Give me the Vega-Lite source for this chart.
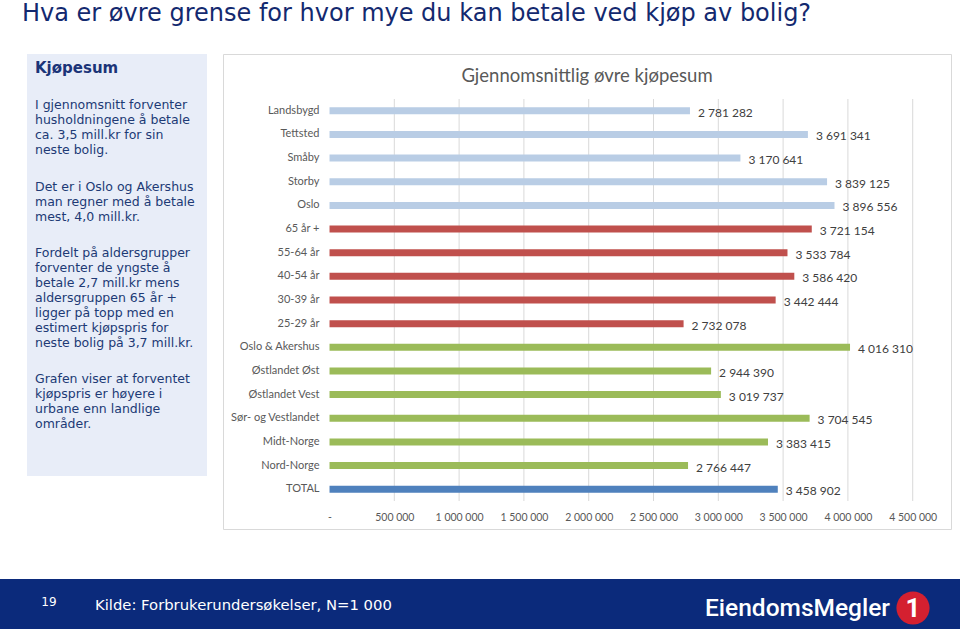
{
  "$schema": "https://vega.github.io/schema/vega-lite/v6.json",
  "padding": {"top": 1, "left": 0, "right": 0, "bottom": 0},
  "background": "white",
  "title": {
    "text": "Hva er øvre grense for hvor mye du kan betale ved kjøp av bolig?",
    "anchor": "start",
    "frame": "bounds",
    "dx": 22,
    "offset": 28,
    "font": "DejaVu Sans",
    "fontSize": 24,
    "fontWeight": "normal",
    "color": "#13296f"
  },
  "datasets": {
    "bars": [
      {"category": "Landsbygd", "value": 2781282, "group": "Bosted"},
      {"category": "Tettsted", "value": 3691341, "group": "Bosted"},
      {"category": "Småby", "value": 3170641, "group": "Bosted"},
      {"category": "Storby", "value": 3839125, "group": "Bosted"},
      {"category": "Oslo", "value": 3896556, "group": "Bosted"},
      {"category": "65 år +", "value": 3721154, "group": "Alder"},
      {"category": "55-64 år", "value": 3533784, "group": "Alder"},
      {"category": "40-54 år", "value": 3586420, "group": "Alder"},
      {"category": "30-39 år", "value": 3442444, "group": "Alder"},
      {"category": "25-29 år", "value": 2732078, "group": "Alder"},
      {"category": "Oslo & Akershus", "value": 4016310, "group": "Region"},
      {"category": "Østlandet Øst", "value": 2944390, "group": "Region"},
      {"category": "Østlandet Vest", "value": 3019737, "group": "Region"},
      {"category": "Sør- og Vestlandet", "value": 3704545, "group": "Region"},
      {"category": "Midt-Norge", "value": 3383415, "group": "Region"},
      {"category": "Nord-Norge", "value": 2766447, "group": "Region"},
      {"category": "TOTAL", "value": 3458902, "group": "Total"}
    ],
    "grid": [
      {"value": 500000}, {"value": 1000000}, {"value": 1500000}, {"value": 2000000},
      {"value": 2500000}, {"value": 3000000}, {"value": 3500000}, {"value": 4000000}, {"value": 4500000}
    ]
  },
  "vconcat": [
    {
      "hconcat": [
        {
          "width": 12,
          "height": 10,
          "data": {"values": []},
          "mark": "point"
        },
        {
          "width": 180,
          "height": 422,
          "view": {"fill": "#e8edf8", "stroke": null},
          "data": {"values": [{
            "heading": "Kjøpesum",
            "p1": "I gjennomsnitt forventer\nhusholdningene å betale\nca. 3,5 mill.kr for sin\nneste bolig.",
            "p2": "Det er i Oslo og Akershus\nman regner med å betale\nmest, 4,0 mill.kr.",
            "p3": "Fordelt på aldersgrupper\nforventer de yngste å\nbetale 2,7 mill.kr mens\naldersgruppen 65 år +\nligger på topp med en\nestimert kjøpspris for\nneste bolig på 3,7 mill.kr.",
            "p4": "Grafen viser at forventet\nkjøpspris er høyere i\nurbane enn landlige\nområder."
          }]},
          "layer": [
            {
              "mark": {"type": "text", "align": "left", "baseline": "middle", "dx": -82, "dy": -197, "font": "DejaVu Sans", "fontSize": 15, "fontWeight": "bold", "color": "#1b3478"},
              "encoding": {"text": {"field": "heading", "type": "nominal"}}
            },
            {
              "mark": {"type": "text", "align": "left", "baseline": "top", "dx": -82, "dy": -166, "font": "DejaVu Sans", "fontSize": 12.5, "lineHeight": 15, "lineBreak": "\n", "color": "#203a75"},
              "encoding": {"text": {"field": "p1", "type": "nominal"}}
            },
            {
              "mark": {"type": "text", "align": "left", "baseline": "top", "dx": -82, "dy": -84, "font": "DejaVu Sans", "fontSize": 12.5, "lineHeight": 15, "lineBreak": "\n", "color": "#203a75"},
              "encoding": {"text": {"field": "p2", "type": "nominal"}}
            },
            {
              "mark": {"type": "text", "align": "left", "baseline": "top", "dx": -82, "dy": -18, "font": "DejaVu Sans", "fontSize": 12.5, "lineHeight": 15, "lineBreak": "\n", "color": "#203a75"},
              "encoding": {"text": {"field": "p3", "type": "nominal"}}
            },
            {
              "mark": {"type": "text", "align": "left", "baseline": "top", "dx": -82, "dy": 108, "font": "DejaVu Sans", "fontSize": 12.5, "lineHeight": 15, "lineBreak": "\n", "color": "#203a75"},
              "encoding": {"text": {"field": "p4", "type": "nominal"}}
            }
          ]
        },
        {
          "width": 728,
          "height": 475,
          "view": {"stroke": "#d9d9d9", "fill": "white"},
          "title": {
            "text": "Gjennomsnittlig øvre kjøpesum",
            "anchor": "middle",
            "frame": "group",
            "offset": -31,
            "font": "Lato",
            "fontSize": 18.5,
            "fontWeight": "normal",
            "color": "#595959"
          },
          "encoding": {
            "x": {
              "field": "value",
              "type": "quantitative",
              "scale": {"domain": [-822000, 4795500], "nice": false, "zero": false},
              "axis": {
                "values": [0, 500000, 1000000, 1500000, 2000000, 2500000, 3000000, 3500000, 4000000, 4500000],
                "format": ",d",
                "labelExpr": "datum.value === 0 ? '-' : datum.label",
                "offset": -28,
                "domain": false,
                "ticks": false,
                "tickSize": 0,
                "grid": false,
                "labelPadding": 11,
                "labelOverlap": false,
                "labelFlush": false,
                "labelFont": "Lato",
                "labelFontSize": 10.5,
                "labelColor": "#595959",
                "title": null
              }
            },
            "y": {
              "field": "category",
              "type": "nominal",
              "scale": {
                "domain": ["Landsbygd", "Tettsted", "Småby", "Storby", "Oslo", "65 år +", "55-64 år", "40-54 år", "30-39 år", "25-29 år", "Oslo & Akershus", "Østlandet Øst", "Østlandet Vest", "Sør- og Vestlandet", "Midt-Norge", "Nord-Norge", "TOTAL"],
                "range": [45, 447],
                "paddingInner": 0,
                "paddingOuter": 0
              },
              "axis": {
                "orient": "left",
                "offset": -107,
                "domain": false,
                "ticks": false,
                "tickSize": 0,
                "labelPadding": 11,
                "labelFont": "Lato",
                "labelFontSize": 11,
                "labelColor": "#595959",
                "title": null
              }
            }
          },
          "layer": [
            {
              "data": {"name": "grid"},
              "mark": {"type": "rule", "color": "#d9d9d9", "strokeWidth": 1},
              "encoding": {
                "y": {"datum": "Landsbygd", "type": "nominal", "bandPosition": 0},
                "y2": {"datum": "TOTAL", "bandPosition": 1}
              }
            },
            {
              "data": {"name": "bars"},
              "mark": {"type": "bar", "size": 7},
              "encoding": {
                "color": {
                  "field": "group",
                  "type": "nominal",
                  "scale": {"domain": ["Bosted", "Alder", "Region", "Total"], "range": ["#b9cde5", "#c0504d", "#9bbb59", "#4f81bd"]},
                  "legend": null
                }
              }
            },
            {
              "data": {"name": "bars"},
              "mark": {"type": "text", "align": "left", "baseline": "middle", "dx": 8, "dy": 2, "font": "Lato", "fontSize": 12, "color": "#404040"},
              "encoding": {
                "text": {"field": "value", "type": "quantitative", "format": ",d"}
              }
            }
          ]
        }
      ],
      "spacing": 15
    },
    {
      "width": 960,
      "height": 52,
      "view": {"fill": "#0b2a7b", "stroke": null},
      "data": {"values": [{"page": "19", "source": "Kilde: Forbrukerundersøkelser, N=1 000", "brand": "EiendomsMegler", "badge": "1"}]},
      "layer": [
        {
          "mark": {"type": "text", "align": "center", "baseline": "middle", "dx": -431, "dy": -3, "font": "DejaVu Sans", "fontSize": 12, "color": "white"},
          "encoding": {"text": {"field": "page", "type": "nominal"}}
        },
        {
          "mark": {"type": "text", "align": "left", "baseline": "middle", "dx": -385, "dy": 1, "font": "DejaVu Sans", "fontSize": 14.8, "color": "white"},
          "encoding": {"text": {"field": "source", "type": "nominal"}}
        },
        {
          "mark": {"type": "text", "align": "left", "baseline": "middle", "dx": 225, "dy": 4, "font": "Roboto", "fontSize": 24.5, "fontWeight": 500, "color": "white"},
          "encoding": {"text": {"field": "brand", "type": "nominal"}}
        },
        {
          "mark": {"type": "point", "shape": "circle", "filled": true, "size": 1100, "color": "#d42030", "opacity": 1, "xOffset": 433, "yOffset": 3},
          "encoding": {}
        },
        {
          "mark": {"type": "text", "align": "center", "baseline": "middle", "dx": 433, "dy": 4, "font": "Roboto", "fontSize": 26, "fontWeight": "bold", "color": "white"},
          "encoding": {"text": {"field": "badge", "type": "nominal"}}
        }
      ]
    }
  ],
  "spacing": 49,
  "config": {
    "view": {"stroke": null},
    "locale": {"number": {"decimal": ",", "thousands": " ", "grouping": [3], "currency": ["", " kr"]}}
  }
}
